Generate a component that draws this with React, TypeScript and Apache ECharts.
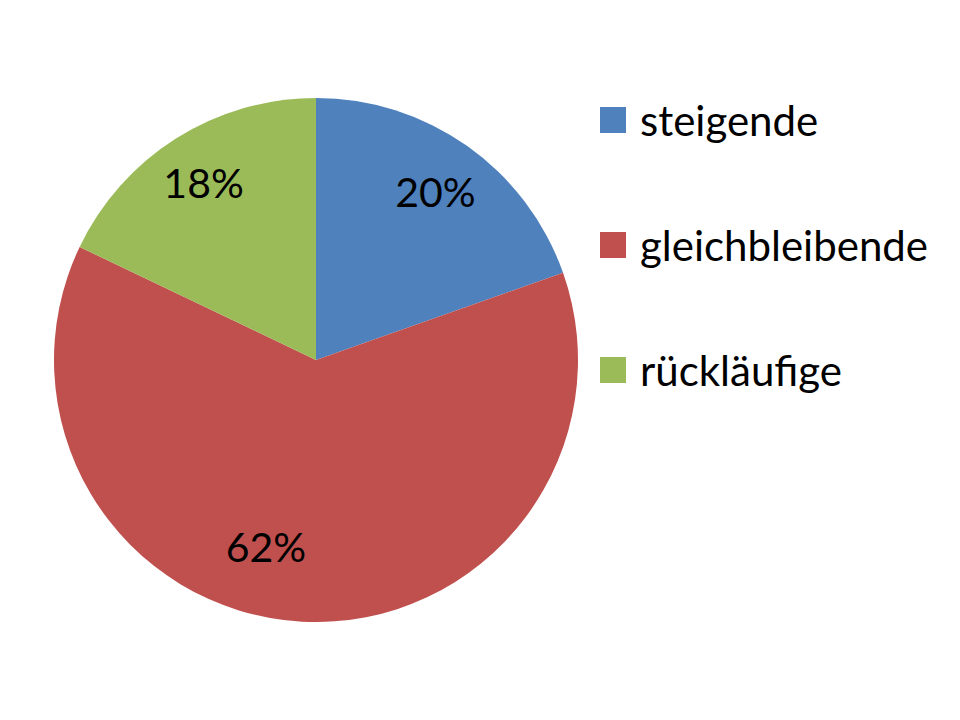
import React, { useEffect, useRef } from "react";
import * as echarts from "echarts";

const categories = ["steigende", "gleichbleibende", "rückläufige"];
const values = [19.6, 62.5, 17.9];
const colors = ["#4F81BD", "#C0504D", "#9BBB59"];
const labelOffsets = [[42, -59], [-43, 53], [-41, -64]];

export default function App() {
  const ref = useRef<HTMLDivElement>(null);
  useEffect(() => {
    const chart = echarts.init(ref.current!, null, { renderer: "svg" });
    chart.setOption({
      animation: false,
      backgroundColor: "#ffffff",
      legend: {
        orient: "vertical",
        left: 587,
        top: 86,
        itemWidth: 26,
        itemHeight: 26,
        itemGap: 83,
        icon: "rect",
        data: categories,
        textStyle: { fontFamily: "Lato", fontSize: 42, color: "#000", padding: [0, 0, 0, 9], lineHeight: 41 },
      },
      series: [
        {
          type: "pie",
          center: [308, 352],
          radius: 262,
          startAngle: 90,
          clockwise: true,
          percentPrecision: 0,
          label: {
            show: true,
            position: "inside",
            formatter: "{d}%",
            fontFamily: "Lato",
            fontSize: 41,
            color: "#000",
          },
          labelLine: { show: false },
          itemStyle: { borderWidth: 0 },
          emphasis: { disabled: true },
          data: categories.map((name, i) => ({
            name,
            value: values[i],
            itemStyle: { color: colors[i] },
            label: { offset: labelOffsets[i] },
          })),
        },
      ],
    });
    return () => chart.dispose();
  }, []);
  return <div ref={ref} style={{ width: 944, height: 704 }} />;
}
